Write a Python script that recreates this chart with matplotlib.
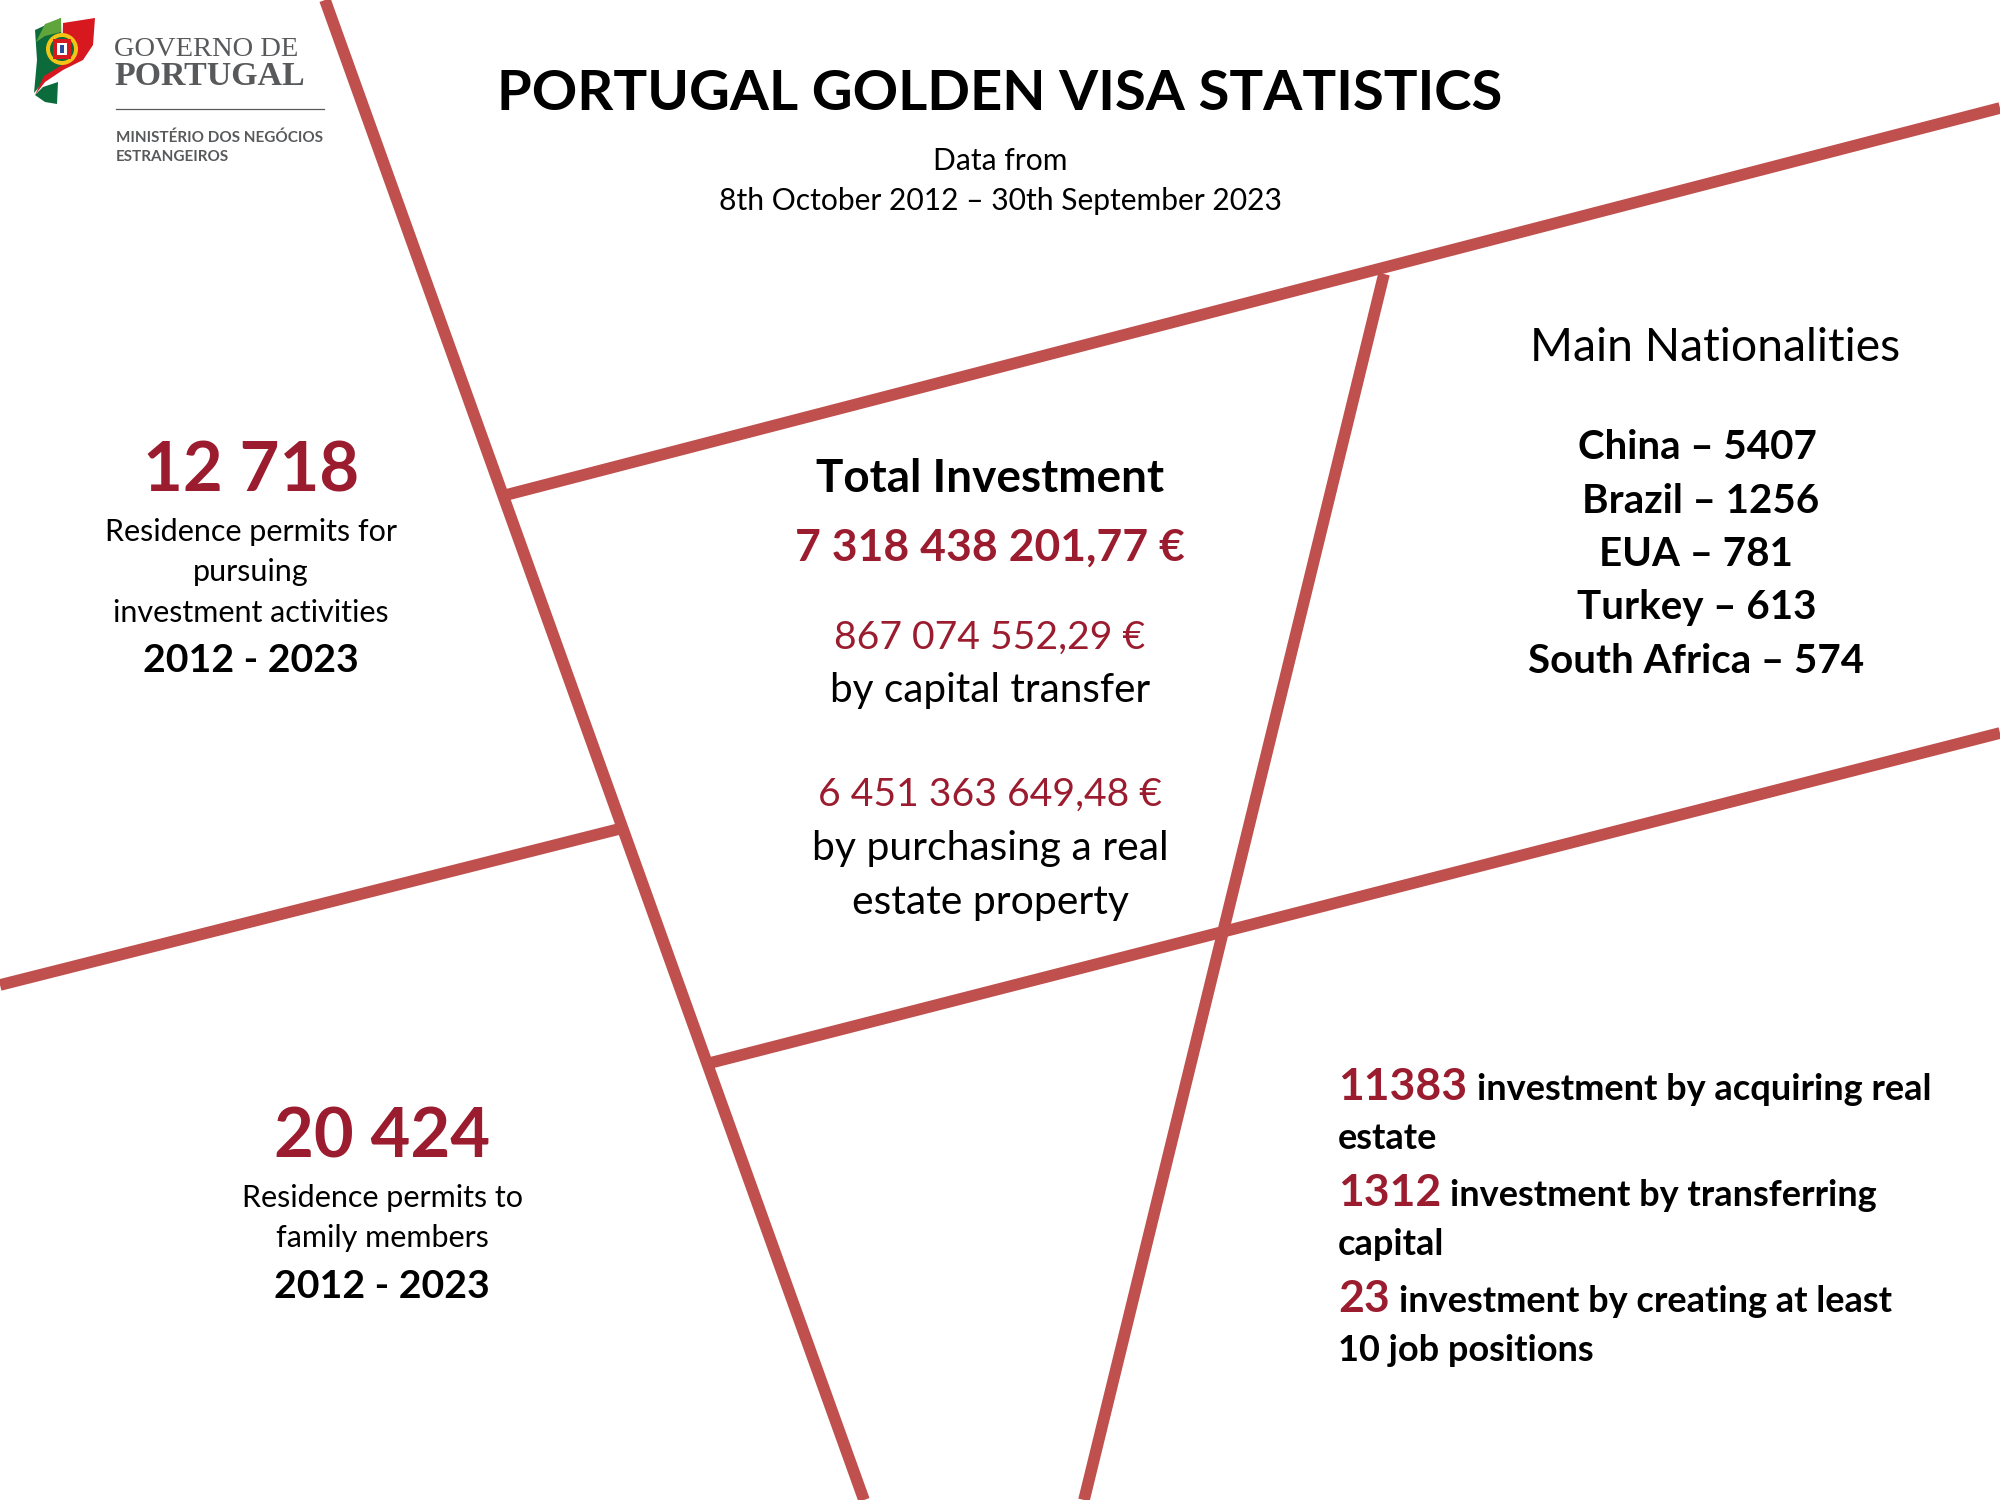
import matplotlib
matplotlib.use('Agg')
import matplotlib.pyplot as plt
from matplotlib.patches import Polygon, Circle, Rectangle

plt.rcParams['font.family'] = ['Lato', 'DejaVu Sans']

RED = '#9B1C2E'
LINE = '#C0504D'
GREY = '#58595B'

# dividing lines, picture pixels
dividers = [
    ((325, 0), (864, 1500)),
    ((506, 495), (2000, 108)),
    ((1384, 274), (1084, 1500)),
    ((0, 985), (619, 829)),
    ((710, 1063), (2000, 733)),
]

permits_investment = '12 718'
permits_family = '20 424'
period = '2012 - 2023'
total_investment = '7 318 438 201,77 €'
capital_transfer = '867 074 552,29 €'
real_estate = '6 451 363 649,48 €'
nationalities = ['China – 5407', 'Brazil – 1256', 'EUA – 781', 'Turkey – 613', 'South Africa – 574']
nat_x = [1697, 1701, 1696, 1697, 1696]
nat_y = [459, 513, 566, 619, 673]
invest_counts = ['11383', '1312', '23']
invest_text_x = [1477, 1450, 1399]
invest_labels = ['investment by acquiring real', 'investment by transferring', 'investment by creating at least']
invest_second = ['estate', 'capital', '10 job positions']
invest_y = [1100, 1206, 1312]
invest_y2 = [1149, 1255, 1361]

fig = plt.figure(figsize=(20, 15), dpi=100)
ax = fig.add_axes([0, 0, 1, 1])
ax.set_xlim(0, 2000)
ax.set_ylim(1500, 0)
ax.axis('off')


def txt(x, y, s, size, color='black', weight='normal', ha='center', **kw):
    ax.text(x, y, s, fontsize=size, color=color, fontweight=weight, ha=ha, va='baseline', **kw)


for a, b in dividers:
    ax.plot([a[0], b[0]], [a[1], b[1]], color=LINE, lw=8.4, solid_capstyle='butt')

# logo
ax.add_patch(Polygon([(61, 18), (35, 30), (37, 60), (34, 93), (47, 78), (62, 68)], color='#0B6B3A', lw=0))
ax.add_patch(Polygon([(61, 18), (45, 24), (36, 42), (45, 36), (61, 32)], color='#5FA53C', lw=0))
ax.add_patch(Polygon([(63, 23), (95, 18), (93, 45), (83, 60), (63, 70), (45, 82), (35, 95), (44, 76), (62, 65)], color='#D7191F', lw=0))
ax.add_patch(Polygon([(58, 82), (57, 104), (45, 102), (35, 95), (43, 87)], color='#0B6B3A', lw=0))
ax.add_patch(Circle((62, 49), 16, fc='#F3C416', ec='none'))
ax.add_patch(Circle((62, 49), 12, fc='#0B6B3A', ec='none'))
ax.add_patch(Rectangle((53, 39), 18, 20, fc='#D7191F', ec='none'))
ax.add_patch(Rectangle((57, 43), 10, 12, fc='white', ec='none'))
ax.add_patch(Rectangle((60, 45), 4, 8, fc='#2B4C9B', ec='none'))
txt(114, 56, 'GOVERNO DE', 20.5, GREY, family='Liberation Serif', ha='left')
txt(114, 85, 'PORTUGAL', 24.4, GREY, 'bold', family='Liberation Serif', ha='left')
ax.plot([116, 324], [108.5, 108.5], color=GREY, lw=0.9)
txt(116, 142, 'MINISTÉRIO DOS NEGÓCIOS', 11, GREY, 'bold', ha='left')
txt(116, 161, 'ESTRANGEIROS', 11, GREY, 'bold', ha='left')

# header
txt(1000, 110, 'PORTUGAL GOLDEN VISA STATISTICS', 40.5, 'black', 'bold')
txt(1000, 170, 'Data from', 21.6)
txt(1000, 210, '8th October 2012 – 30th September 2023', 21.6)

# left blocks
txt(251, 491, permits_investment, 49.5, RED, 'bold')
txt(251, 541, 'Residence permits for', 22)
txt(251, 581, 'pursuing', 22)
txt(251, 622, 'investment activities', 22)
txt(251, 672, period, 28.3, 'black', 'bold')

txt(382, 1157, permits_family, 49.5, RED, 'bold')
txt(382, 1207, 'Residence permits to', 22)
txt(382, 1247, 'family members', 22)
txt(382, 1298, period, 28.3, 'black', 'bold')

# center block
txt(990, 492, 'Total Investment', 33, 'black', 'bold')
txt(990, 561, total_investment, 32, RED, 'bold')
txt(990, 649, capital_transfer, 28.2, RED)
txt(990, 702, 'by capital transfer', 29.2)
txt(990, 806, real_estate, 28.2, RED)
txt(990, 860, 'by purchasing a real', 29.4)
txt(990, 914, 'estate property', 29.4)

# right top block
txt(1715, 361, 'Main Nationalities', 33.4)
for x, y, s in zip(nat_x, nat_y, nationalities):
    txt(x, y, s, 29, 'black', 'bold')

# right bottom block
for i in range(3):
    txt(1338, invest_y[i], invest_counts[i], 32, RED, 'bold', ha='left')
    txt(invest_text_x[i], invest_y[i], invest_labels[i], 26, 'black', 'bold', ha='left')
    txt(1338, invest_y2[i], invest_second[i], 26, 'black', 'bold', ha='left')

fig.savefig('out.png', dpi=100, facecolor='white')
